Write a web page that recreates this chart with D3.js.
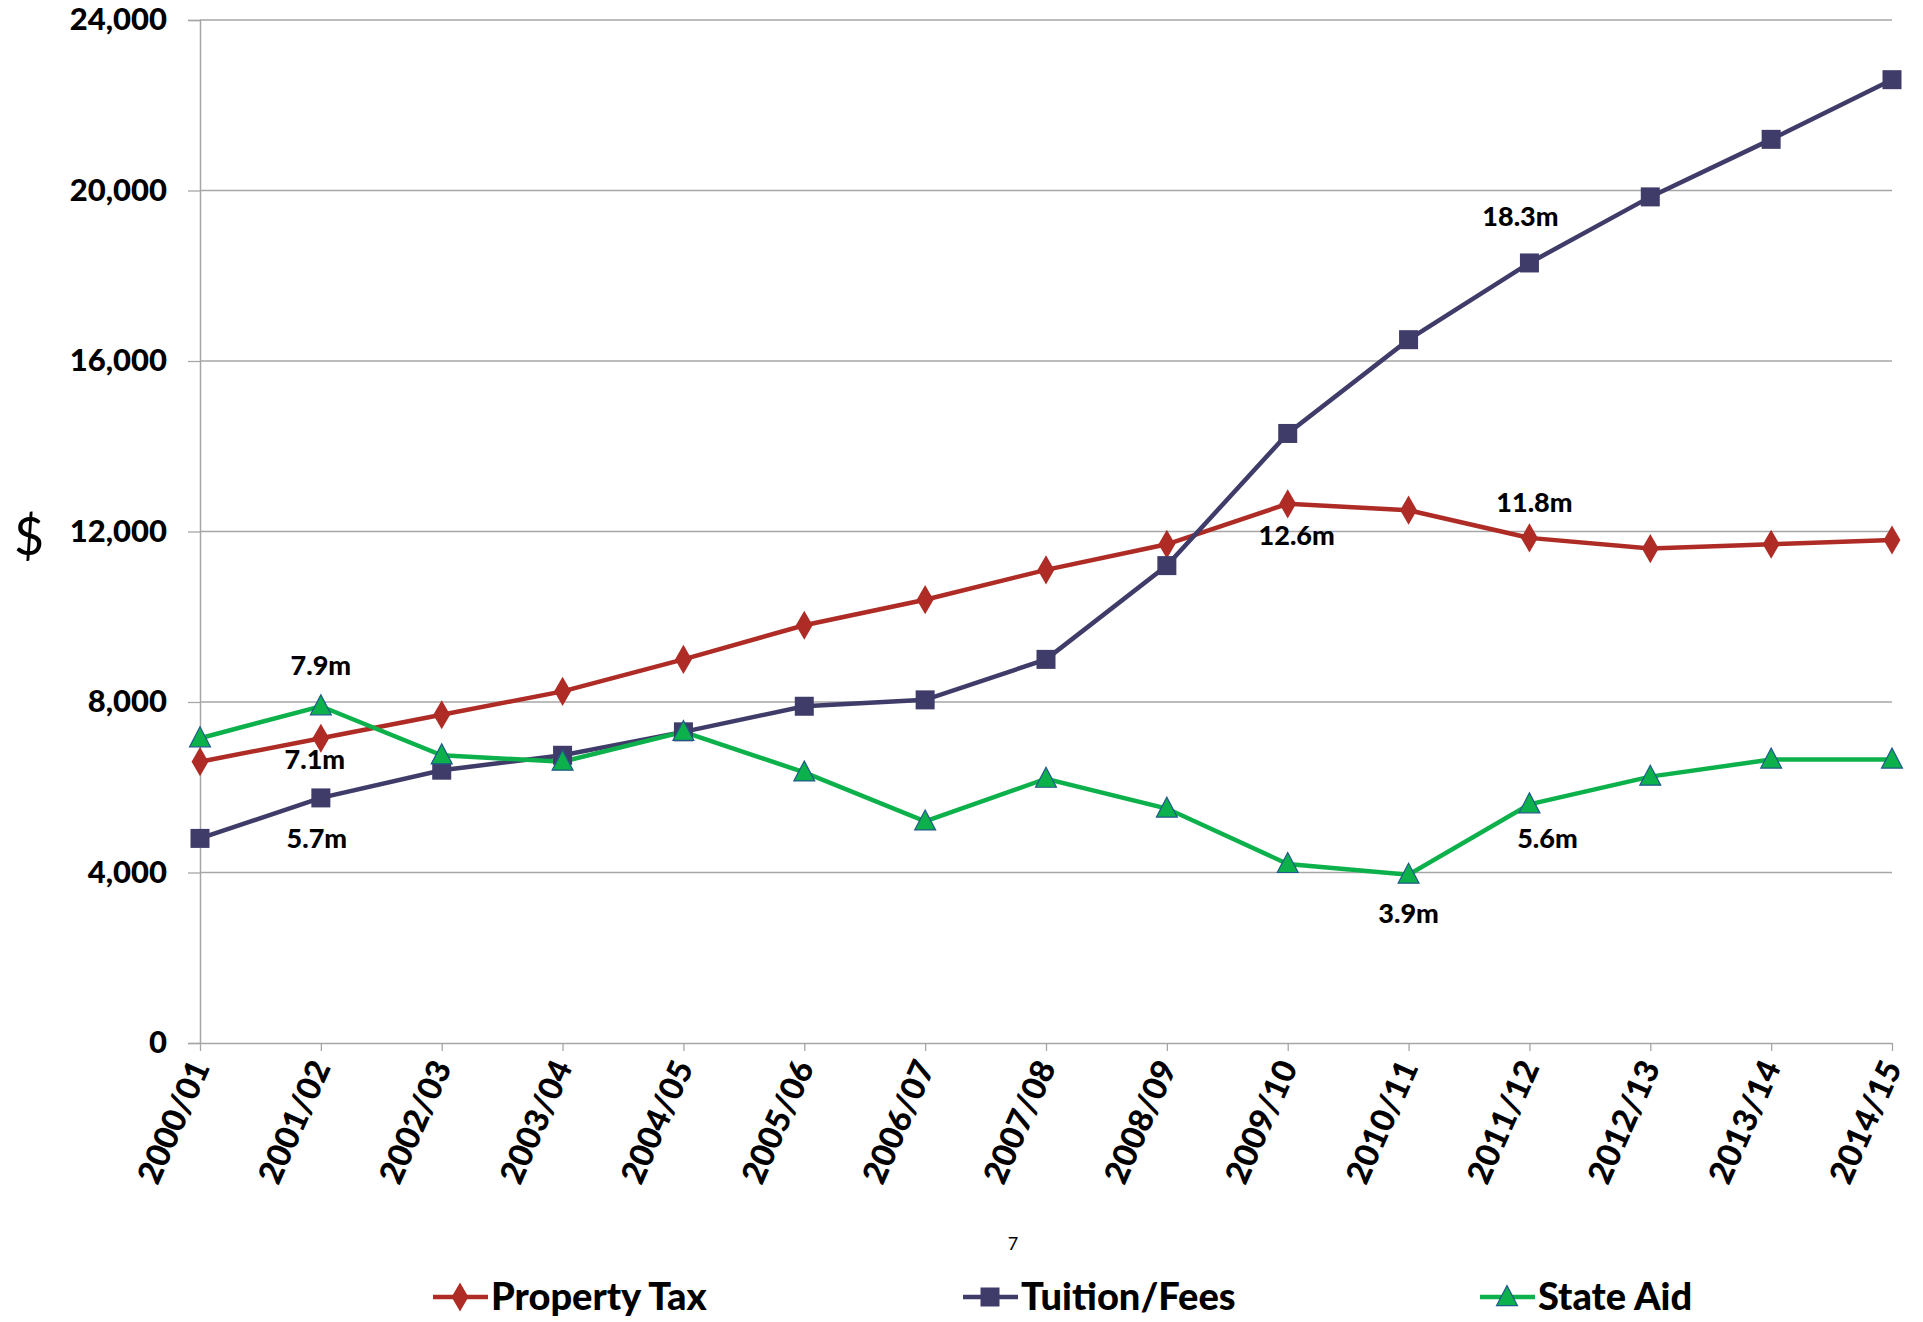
<!DOCTYPE html>
<html>
<head>
<meta charset="utf-8">
<script src="https://cdn.jsdelivr.net/npm/d3@7"></script>
<style>
  body { margin: 0; background: #fff; }
  text { font-family: Lato, "Open Sans", sans-serif; }
</style>
</head>
<body>
<div id="chart"></div>
<script>
// categories and values
const years = ["2000/01", "2001/02", "2002/03", "2003/04", "2004/05", "2005/06", "2006/07", "2007/08",
               "2008/09", "2009/10", "2010/11", "2011/12", "2012/13", "2013/14", "2014/15"]
const propertyTax = [6600, 7150, 7700, 8250, 9000, 9800, 10400, 11100, 11700, 12650, 12500, 11850, 11600, 11700, 11800]
const tuitionFees = [4800, 5750, 6400, 6750, 7300, 7900, 8050, 9000, 11200, 14300, 16500, 18300, 19850, 21200, 22600]
const stateAid = [7150, 7900, 6750, 6600, 7300, 6350, 5200, 6200, 5500, 4200, 3950, 5600, 6250, 6650, 6650]
const yTicks = [0, 4000, 8000, 12000, 16000, 20000, 24000]
const seriesNames = ["Property Tax", "Tuition/Fees", "State Aid"]
const callouts = [
  { series: "State Aid", index: 1, text: "7.9m" },
  { series: "Property Tax", index: 1, text: "7.1m" },
  { series: "Tuition/Fees", index: 1, text: "5.7m" },
  { series: "Property Tax", index: 9, text: "12.6m" },
  { series: "Tuition/Fees", index: 11, text: "18.3m" },
  { series: "Property Tax", index: 11, text: "11.8m" },
  { series: "State Aid", index: 11, text: "5.6m" },
  { series: "State Aid", index: 10, text: "3.9m" }
]

const width = 1923
const height = 1322
const plotLeft = 200, plotRight = 1892, plotTop = 20, plotBottom = 1043

const series = [
  { name: seriesNames[0], values: propertyTax, color: "#AE2C25", marker: "diamond" },
  { name: seriesNames[1], values: tuitionFees, color: "#3F3C69", marker: "square" },
  { name: seriesNames[2], values: stateAid, color: "#0DB14B", marker: "triangle" }
]

let svg = d3.select("#chart")
            .append("svg")
            .attr("width", width)
            .attr("height", height)

let x = d3.scalePoint()
          .domain(years)
          .range([plotLeft, plotRight])
let y = d3.scaleLinear()
          .domain([0, 24000])
          .range([plotBottom, plotTop])

//gridlines
svg.append("g")
   .selectAll("line")
   .data(yTicks.filter(d => d > 0))
   .enter().append("line")
   .attr("x1", plotLeft).attr("x2", plotRight)
   .attr("y1", d => y(d)).attr("y2", d => y(d))
   .attr("stroke", "#a6a6a6").attr("stroke-width", 1.3)

//y axis
let yAxis = d3.axisLeft(y)
              .tickValues(yTicks)
              .tickSize(12)
              .tickFormat(d3.format(","))
let gy = svg.append("g")
            .attr("transform", "translate(" + plotLeft + ",0)")
            .call(yAxis)
gy.select(".domain").attr("stroke", "#a6a6a6").attr("stroke-width", 1.5)
gy.selectAll(".tick line").attr("stroke", "#a6a6a6").attr("stroke-width", 1.3)
gy.selectAll(".tick text")
  .attr("x", -33)
  .style("font-size", "31px")
  .style("font-weight", "900")
  .attr("fill", "#000")

//x axis
let xAxis = d3.axisBottom(x).tickSize(8).tickSizeOuter(0)
let gx = svg.append("g")
            .attr("transform", "translate(0," + plotBottom + ")")
            .call(xAxis)
gx.select(".domain").attr("stroke", "#a6a6a6").attr("stroke-width", 1.5)
gx.selectAll(".tick line").attr("stroke", "#a6a6a6").attr("stroke-width", 1.3)
gx.selectAll(".tick text")
  .attr("y", 0).attr("dy", 0)
  .attr("transform", "translate(10,24) rotate(-66)")
  .style("text-anchor", "end")
  .style("font-size", "33px")
  .style("font-weight", "900")
  .attr("fill", "#000")

svg.append("text")
   .attr("x", 29)
   .attr("y", 555)
   .attr("text-anchor", "middle")
   .style("font-size", "52px")
   .text("$")

//lines
let line = d3.line()
             .x((d, i) => x(years[i]))
             .y(d => y(d))

function drawMarker(g, type, color, size) {
  if (type === "square") {
    g.append("rect")
     .attr("x", -size / 2).attr("y", -size / 2)
     .attr("width", size).attr("height", size)
     .attr("fill", color)
  } else if (type === "diamond") {
    g.append("path")
     .attr("d", d3.symbol(d3.symbolDiamond, size * size * 0.85)())
     .attr("fill", color)
  } else {
    g.append("path")
     .attr("d", "M0," + (-size * 0.6) + "L" + (size * 0.55) + "," + (size * 0.45) + "L" + (-size * 0.55) + "," + (size * 0.45) + "Z")
     .attr("fill", color)
     .attr("stroke", "#1f5a8a")
     .attr("stroke-width", 1.2)
  }
}

const markerSize = { square: 19, diamond: 17, triangle: 19 }

series.forEach(function(s) {
  svg.append("path")
     .datum(s.values)
     .attr("d", line)
     .attr("fill", "none")
     .attr("stroke", s.color)
     .attr("stroke-width", 4.5)
})
series.forEach(function(s) {
  svg.append("g")
     .selectAll("g")
     .data(s.values)
     .enter().append("g")
     .attr("transform", (d, i) => "translate(" + x(years[i]) + "," + y(d) + ")")
     .each(function() {
       drawMarker(d3.select(this), s.marker, s.color, markerSize[s.marker])
     })
})

//value call-outs
const calloutOffset = {
  "7.9m": [0, -38], "7.1m": [-6, 24], "5.7m": [-4, 43], "12.6m": [9, 34],
  "18.3m": [-9, -44], "11.8m": [5, -33], "5.6m": [18, 37], "3.9m": [0, 41]
}
svg.append("g")
   .selectAll("text")
   .data(callouts)
   .enter().append("text")
   .attr("x", d => x(years[d.index]) + calloutOffset[d.text][0])
   .attr("y", function(d) {
     let s = series.find(t => t.name === d.series)
     return y(s.values[d.index]) + calloutOffset[d.text][1]
   })
   .attr("text-anchor", "middle")
   .attr("dominant-baseline", "middle")
   .style("font-size", "27px")
   .style("font-weight", "900")
   .text(d => d.text)

svg.append("text")
   .attr("x", 1013)
   .attr("y", 1250)
   .attr("text-anchor", "middle")
   .style("font-size", "18px")
   .text("7")

//legend
const legendX = [433, 963, 1480]
let legend = svg.selectAll(".legend")
                .data(series)
                .enter().append("g")
                .attr("class", "legend")
                .attr("transform", (d, i) => "translate(" + legendX[i] + ",1297)")
legend.append("line")
      .attr("x1", 0).attr("x2", 55)
      .attr("stroke", d => d.color)
      .attr("stroke-width", 4.5)
legend.append("g")
      .attr("transform", "translate(27,0)")
      .each(function(d) {
        drawMarker(d3.select(this), d.marker, d.color, markerSize[d.marker])
      })
legend.append("text")
      .attr("x", 58)
      .attr("y", 13)
      .style("font-size", "38px")
      .style("font-weight", "900")
      .text(d => d.name)
</script>
</body>
</html>
